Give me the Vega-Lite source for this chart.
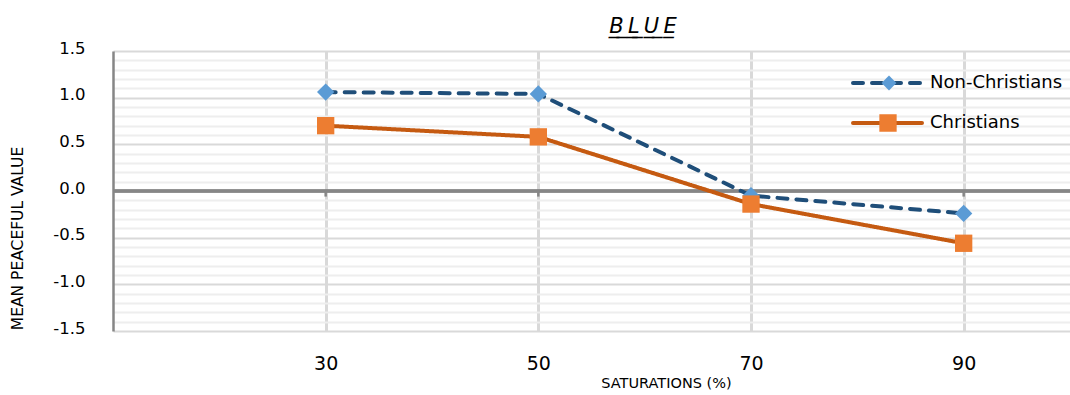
{
  "$schema": "https://vega.github.io/schema/vega-lite/v6.json",
  "width": 957,
  "height": 280,
  "autosize": "none",
  "padding": {"left": 113, "top": 51, "right": 0, "bottom": 64},
  "background": "white",
  "config": {"view": {"stroke": null}, "font": "DejaVu Sans"},
  "title": {
    "text": "B\u0332\u2009\u0332L\u0332\u2009\u0332U\u0332\u2009\u0332E\u0332",
    "font": "DejaVu Sans",
    "fontSize": 21,
    "fontStyle": "italic",
    "fontWeight": "normal",
    "color": "#000000",
    "anchor": "middle",
    "frame": "group",
    "dx": 51.5,
    "dy": 24,
    "baseline": "alphabetic",
    "offset": 10
  },
  "data": {
    "values": [
      {"sat": 30, "value": 1.06, "series": "Non-Christians"},
      {"sat": 50, "value": 1.04, "series": "Non-Christians"},
      {"sat": 70, "value": -0.05, "series": "Non-Christians"},
      {"sat": 90, "value": -0.24, "series": "Non-Christians"},
      {"sat": 30, "value": 0.70, "series": "Christians"},
      {"sat": 50, "value": 0.58, "series": "Christians"},
      {"sat": 70, "value": -0.14, "series": "Christians"},
      {"sat": 90, "value": -0.56, "series": "Christians"}
    ]
  },
  "layer": [
    {
      "mark": {"type": "rule", "color": "#868686", "strokeWidth": 2.5},
      "encoding": {"y": {"datum": 0}}
    },
    {
      "transform": [{"filter": "datum.series === 'Christians'"}],
      "mark": {"type": "rule", "color": "#868686", "strokeWidth": 2.5},
      "encoding": {
        "x": {"field": "sat", "type": "quantitative"},
        "y": {"datum": 0},
        "y2": {"datum": -0.06}
      }
    },
    {
      "mark": {"type": "line", "strokeWidth": 4, "strokeCap": "round", "strokeJoin": "round"},
      "encoding": {
        "x": {
          "field": "sat",
          "type": "quantitative",
          "scale": {"domain": [10, 100], "nice": false, "zero": false},
          "axis": {
            "values": [30, 50, 70, 90],
            "grid": true,
            "gridColor": "#d9d9d9",
            "gridWidth": 3,
            "domain": false,
            "ticks": false,
            "tickSize": 0,
            "labelPadding": 23,
            "labelFontSize": 19,
            "labelColor": "#000000",
            "labelFont": "DejaVu Sans",
            "title": "SATURATIONS (%)",
            "titleFont": "DejaVu Sans",
            "titleFontSize": 14.5,
            "titleFontWeight": "normal",
            "titleColor": "#000000",
            "titleX": 553,
            "titleY": 56,
            "titleAlign": "center",
            "titleBaseline": "alphabetic"
          }
        },
        "y": {
          "field": "value",
          "type": "quantitative",
          "scale": {"domain": [-1.5, 1.5], "nice": false, "zero": false},
          "axis": {
            "values": [-1.5, -1.4, -1.3, -1.2, -1.1, -1, -0.9, -0.8, -0.7, -0.6, -0.5, -0.4, -0.3, -0.2, -0.1, 0, 0.1, 0.2, 0.3, 0.4, 0.5, 0.6, 0.7, 0.8, 0.9, 1, 1.1, 1.2, 1.3, 1.4, 1.5],
            "tickCount": 40,
            "grid": true,
            "gridColor": {
              "condition": {"test": "abs(datum.value * 2 - round(datum.value * 2)) < 0.001", "value": "#d9d9d9"},
              "value": "#eeeeee"
            },
            "gridWidth": 2,
            "domain": true,
            "domainColor": "#868686",
            "domainWidth": 2.5,
            "ticks": false,
            "tickSize": 0,
            "labelExpr": "abs(datum.value * 2 - round(datum.value * 2)) < 0.001 ? replace(format(datum.value, '.1f'), '\u2212', '-') : ''",
            "labelOverlap": false,
            "labelFontSize": 16.5,
            "labelPadding": 28,
            "labelOffset": -3,
            "labelColor": "#000000",
            "labelFont": "DejaVu Sans",
            "title": "MEAN PEACEFUL VALUE",
            "titleFont": "DejaVu Sans",
            "titleFontSize": 15.5,
            "titleFontWeight": "normal",
            "titleColor": "#000000",
            "titleX": -96,
            "titleY": 187,
            "titleAngle": -90,
            "titleAlign": "center",
            "titleBaseline": "middle"
          }
        },
        "stroke": {
          "field": "series",
          "type": "nominal",
          "scale": {"domain": ["Non-Christians", "Christians"], "range": ["#1F4E79", "#C55A11"]},
          "legend": {
            "orient": "none",
            "legendX": 738,
            "legendY": 17,
            "title": null,
            "padding": 0,
            "symbolType": "stroke",
            "symbolSize": 4761,
            "symbolStrokeWidth": 4,
            "labelFont": "DejaVu Sans",
            "labelFontSize": 18,
            "labelColor": "#000000",
            "labelOffset": 6,
            "clipHeight": 30,
            "rowPadding": 10,
            "encode": {"symbols": {"update": {"strokeCap": {"value": "round"}}}}
          }
        },
        "strokeDash": {
          "field": "series",
          "type": "nominal",
          "scale": {"domain": ["Non-Christians", "Christians"], "range": [[10, 9], [1, 0]]}
        }
      }
    },
    {
      "mark": {"type": "point", "filled": true, "opacity": 1, "size": 300},
      "encoding": {
        "x": {"field": "sat", "type": "quantitative"},
        "y": {"field": "value", "type": "quantitative"},
        "fill": {
          "field": "series",
          "type": "nominal",
          "sort": ["Non-Christians", "Christians"],
          "scale": {"range": ["#5B9BD5", "#ED7D31"]},
          "legend": {
            "orient": "none",
            "legendX": 766,
            "legendY": 57,
            "values": ["Christians"],
            "title": null,
            "padding": 0,
            "symbolType": "square",
            "symbolSize": 300,
            "symbolStrokeWidth": 0,
            "symbolOpacity": 1,
            "labelOpacity": 0,
            "labelFont": "DejaVu Sans",
            "labelFontSize": 18,
            "clipHeight": 30
          }
        },
        "shape": {
          "field": "series",
          "type": "nominal",
          "sort": ["Non-Christians", "Christians"],
          "scale": {"range": ["diamond", "square"]},
          "legend": {
            "orient": "none",
            "legendX": 767,
            "legendY": 17,
            "values": ["Non-Christians"],
            "title": null,
            "padding": 0,
            "symbolSize": 220,
            "symbolFillColor": "#5B9BD5",
            "symbolStrokeWidth": 0,
            "symbolOpacity": 1,
            "labelOpacity": 0,
            "labelFont": "DejaVu Sans",
            "labelFontSize": 18,
            "clipHeight": 30
          }
        }
      }
    }
  ]
}
